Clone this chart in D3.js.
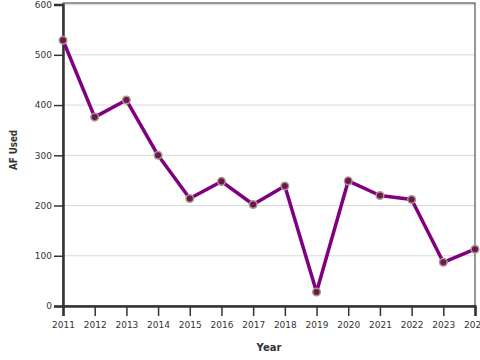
<!DOCTYPE html>
<html>
<head>
<meta charset="utf-8">
<script src="https://cdn.jsdelivr.net/npm/d3@7"></script>
<style>
  html, body { margin: 0; padding: 0; background: #fff; }
  svg { display: block; font-family: "DejaVu Sans", sans-serif; }
</style>
</head>
<body>
<svg id="chart" width="480" height="360"></svg>
<script>
const years = [2011, 2012, 2013, 2014, 2015, 2016, 2017, 2018, 2019, 2020, 2021, 2022, 2023, 2024];
const afUsed = [529, 376, 410, 300, 214, 248, 202, 239, 28, 249, 220, 212, 87, 113];
const yTicks = [0, 100, 200, 300, 400, 500, 600];
const xLabel = "Year";
const yLabel = "AF Used";

const data = years.map((y, i) => ({ year: y, value: afUsed[i] }));

const margin = { top: 4, right: 5, bottom: 54, left: 63 };
const width = 480, height = 360;
const svg = d3.select("#chart");

const x = d3.scaleLinear()
  .domain([years[0], years[years.length - 1]])
  .range([margin.left, width - margin.right]);
const y = d3.scaleLinear()
  .domain([0, 600])
  .range([height - margin.bottom, margin.top + 0.6]);

// grid
svg.append("g")
  .selectAll("line")
  .data(yTicks)
  .join("line")
  .attr("x1", margin.left)
  .attr("x2", width - margin.right)
  .attr("y1", d => y(d))
  .attr("y2", d => y(d))
  .attr("stroke", "#d9d9d9")
  .attr("stroke-width", 1);

// frame (top/right)
svg.append("rect")
  .attr("x", margin.left)
  .attr("y", margin.top - 1)
  .attr("width", width - margin.right - margin.left)
  .attr("height", height - margin.bottom - margin.top + 1)
  .attr("fill", "none")
  .attr("stroke", "#333")
  .attr("stroke-width", 1);

// axes
const xAxis = svg.append("g")
  .attr("transform", `translate(0,${height - margin.bottom})`)
  .call(d3.axisBottom(x).tickValues(years).tickFormat(d3.format("d")).tickSize(10).tickPadding(6));
const yAxis = svg.append("g")
  .attr("transform", `translate(${margin.left},0)`)
  .call(d3.axisLeft(y).tickValues(yTicks).tickSize(9).tickPadding(2));

[xAxis, yAxis].forEach(g => {
  g.select(".domain").attr("stroke", "#333").attr("stroke-width", 2.5);
  g.selectAll(".tick line").attr("stroke", "#333").attr("stroke-width", 1.5);
  g.selectAll(".tick text").attr("fill", "#333").style("font-size", "9px").style("font-family", "DejaVu Sans, sans-serif");
});

// labels
svg.append("text")
  .attr("x", (margin.left + width - margin.right) / 2)
  .attr("y", 351)
  .attr("text-anchor", "middle")
  .attr("font-weight", "bold")
  .attr("font-size", "10px")
  .attr("fill", "#333")
  .text(xLabel);
svg.append("text")
  .attr("transform", `translate(17,150) rotate(-90)`)
  .attr("text-anchor", "middle")
  .attr("font-weight", "bold")
  .attr("font-size", "10px")
  .attr("textLength", 40)
  .attr("lengthAdjust", "spacingAndGlyphs")
  .attr("fill", "#333")
  .text(yLabel);

// line
const line = d3.line().x(d => x(d.year)).y(d => y(d.value));
svg.append("path")
  .datum(data)
  .attr("fill", "none")
  .attr("stroke", "#800080")
  .attr("stroke-width", 3.5)
  .attr("stroke-linejoin", "round")
  .attr("d", line);

// points
svg.append("g")
  .selectAll("circle")
  .data(data)
  .join("circle")
  .attr("cx", d => x(d.year))
  .attr("cy", d => y(d.value))
  .attr("r", 3.8)
  .attr("fill", "#6e1650")
  .attr("stroke", "#a8998a")
  .attr("stroke-width", 1.5);
</script>
</body>
</html>
